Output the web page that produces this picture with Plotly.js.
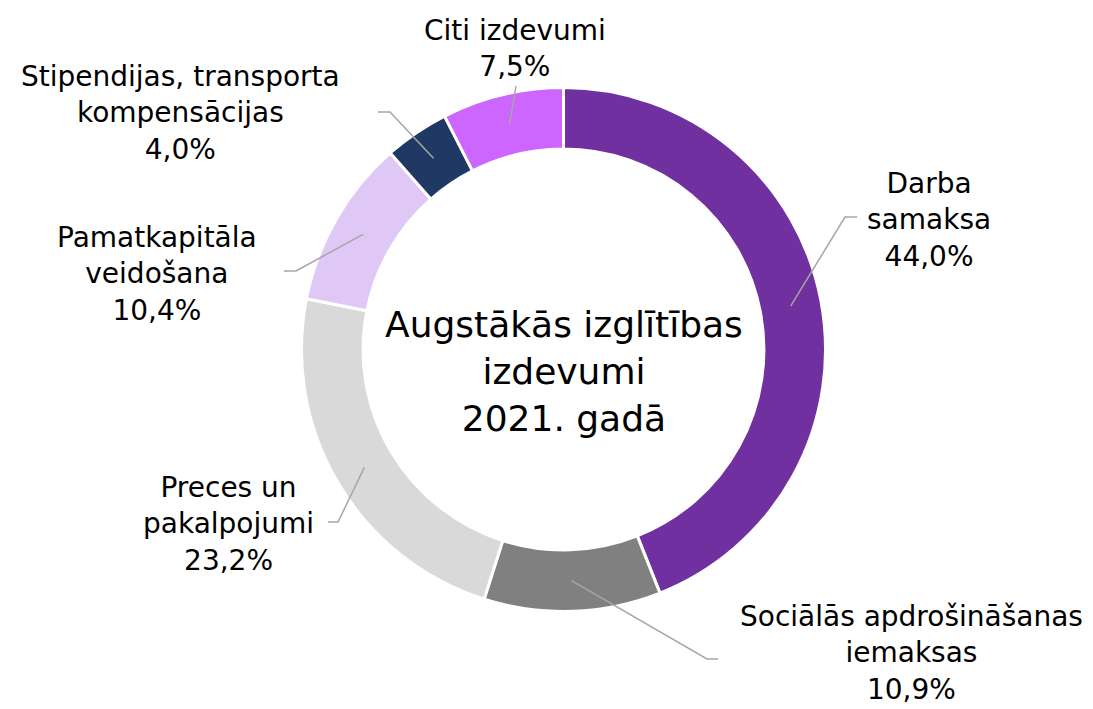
<!DOCTYPE html>
<html><head><meta charset="utf-8">
<script src="https://cdn.plot.ly/plotly-3.0.1.min.js"></script>
<style>html,body{margin:0;padding:0;background:#fff}</style>
</head><body>
<div id="chart" style="width:1093px;height:709px"></div>
<script>
// ---- data ----
const categories = ["Darba<br>samaksa", "Sociālās apdrošināšanas<br>iemaksas", "Preces un<br>pakalpojumi", "Pamatkapitāla<br>veidošana", "Stipendijas, transporta<br>kompensācijas", "Citi izdevumi"];
const values = [44.0, 10.9, 23.2, 10.4, 4.0, 7.5];
const colors = ["#7030A0", "#808080", "#D9D9D9", "#E0C8F6", "#1F3864", "#CC66FF"];
const centerTitle = "Augstākās izglītības<br>izdevumi<br>2021. gadā";

// ---- layout (pixel positions) ----
const W = 1093, H = 709;
const cx = 563.5, cy = 349.5, R = 262, hole = 0.765;
// label block centers and leader elbow/end points (pixels)
const labelPos = [[929, 220], [911, 653], [228, 524], [157, 274], [180, 113], [515, 48]];
const elbows = [[[845, 217], [857, 217]], [[707, 659], [718, 659]], [[338, 522], [328, 522]], [[296, 271], [284, 271]], [[390, 112], [378, 112]], [[516, 86], [516, 86]]];

const total = values.reduce((a, b) => a + b, 0);
const px = x => x / W, py = y => 1 - y / H;
const shapes = [], annotations = [];
let cum = 0;
const midR = R * (1 + hole) / 2;
values.forEach((v, i) => {
  const mid = (cum + v / 2) / total * 2 * Math.PI;
  cum += v;
  const sx = cx + midR * Math.sin(mid), sy = cy - midR * Math.cos(mid);
  const [e1, e2] = elbows[i];
  shapes.push({type: 'path', xref: 'paper', yref: 'paper',
    path: `M ${px(sx)} ${py(sy)} L ${px(e1[0])} ${py(e1[1])} L ${px(e2[0])} ${py(e2[1])}`,
    line: {color: '#A6A6A6', width: 1.5}});
  annotations.push({xref: 'paper', yref: 'paper', x: px(labelPos[i][0]), y: py(labelPos[i][1]),
    xanchor: 'center', yanchor: 'middle', align: 'center', showarrow: false,
    text: categories[i] + '<br>' + v.toFixed(1).replace('.', ',') + '%',
    font: {family: 'DejaVu Sans', size: 28, color: '#000'}});
});
annotations.push({xref: 'paper', yref: 'paper', x: px(cx), y: py(cy + 22), xanchor: 'center', yanchor: 'middle',
  align: 'center', showarrow: false, text: centerTitle, font: {family: 'DejaVu Sans', size: 36, color: '#000'}});

Plotly.newPlot('chart', [{
  type: 'pie', labels: categories, values: values, sort: false, direction: 'clockwise', rotation: 0,
  hole: hole, textinfo: 'none', hoverinfo: 'label+percent',
  marker: {colors: colors, line: {color: '#FFFFFF', width: 3}},
  domain: {x: [(cx - R) / W, (cx + R) / W], y: [1 - (cy + R) / H, 1 - (cy - R) / H]}
}], {
  width: W, height: H, margin: {l: 0, r: 0, t: 0, b: 0}, showlegend: false,
  paper_bgcolor: '#fff', font: {family: 'DejaVu Sans'},
  shapes: shapes, annotations: annotations
}, {displayModeBar: false, staticPlot: true});
</script>
</body></html>
